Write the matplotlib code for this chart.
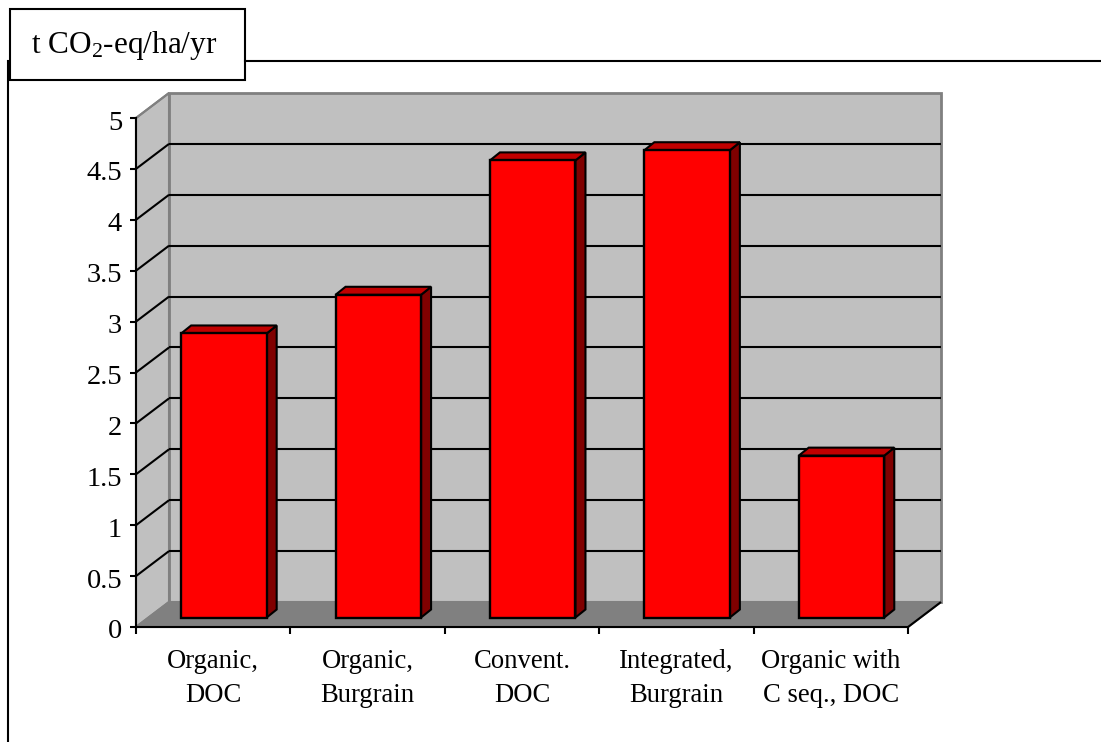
import matplotlib
matplotlib.use("Agg")
import matplotlib.pyplot as plt
from matplotlib.patches import Polygon, Rectangle
from matplotlib.lines import Line2D
from matplotlib.transforms import Affine2D

categories = ["Organic,\nDOC", "Organic,\nBurgrain", "Convent.\nDOC", "Integrated,\nBurgrain", "Organic with\nC seq., DOC"]
values = [2.79, 3.17, 4.49, 4.59, 1.59]
y_ticks = [0, 0.5, 1, 1.5, 2, 2.5, 3, 3.5, 4, 4.5, 5]
y_tick_labels = ["0", "0.5", "1", "1.5", "2", "2.5", "3", "3.5", "4", "4.5", "5"]
unit_label = "t CO$_2$-eq/ha/yr"

plt.rcParams["font.family"] = "Liberation Serif"
plt.rcParams["mathtext.default"] = "regular"
W, H = 1101, 742
fig = plt.figure(figsize=(W / 100, H / 100), dpi=100, facecolor="white")
ax = fig.add_axes([136 / W, (H - 627) / H, 772 / W, 509 / H])
ax.set_xlim(0, len(categories))
ax.set_ylim(0, 5)
ax.patch.set_visible(False)

def off(dx, dy):
    return ax.transData + Affine2D().translate(dx, dy)

DX, DY = 33, 25
n = len(categories)
GREY, WALL, FLOOR = "#808080", "#C0C0C0", "#808080"

# depth projection: pixel offset d*(DX, DY) from the front plane
p = lambda x, y, d: (ax.transData.transform((x, y)) + (d * DX, d * DY))
to_fig = fig.transFigure.inverted()

def fig_poly(pts, **kw):
    pg = Polygon(to_fig.transform(pts), closed=True, transform=fig.transFigure, clip_on=False, **kw)
    ax.add_artist(pg)
    return pg

def fig_line(a, b, color="black", lw=1.5, z=2):
    pts = to_fig.transform([a, b])
    ax.add_artist(Line2D(pts[:, 0], pts[:, 1], transform=fig.transFigure, color=color, lw=lw,
                         zorder=z, clip_on=False, solid_capstyle="butt"))

# walls and floor
ax.add_patch(Polygon([(0, 0), (n, 0), (n, 5), (0, 5)], closed=True, transform=off(DX, DY),
                     fc=WALL, ec=GREY, lw=2, clip_on=False, zorder=1))
fig_poly([p(0, 0, 0), p(0, 5, 0), p(0, 5, 1), p(0, 0, 1)], fc=WALL, ec=GREY, lw=1.5, zorder=1.1)
fig_poly([p(0, 0, 0), p(n, 0, 0), p(n, 0, 1), p(0, 0, 1)], fc=FLOOR, ec=GREY, lw=1.5, zorder=1.2)

# gridlines across left wall and back wall
for v in y_ticks[1:-1]:
    fig_line(p(0, v, 0), p(0, v, 1))
    fig_line(p(0, v, 1), p(n, v, 1))
fig_line(p(n, 0, 0), p(n, 0, 1))
fig_line(p(0, 5, 0), p(0, 5, 1), color=GREY)

# bars
BW = 0.277
FX, FY = 10.7, 9.5
BX, BY = 10, 8
for i, v in enumerate(values):
    c = i + 0.5
    l, r = c - BW, c + BW
    tr = off(FX, FY)
    q = lambda x, y, d: (ax.transData.transform((x, y)) + (FX + d * BX, FY + d * BY))
    fig_poly([q(r, 0, 0), q(r, v, 0), q(r, v, 1), q(r, 0, 1)], fc="#800000", ec="black", lw=1.5, zorder=3)
    fig_poly([q(l, v, 0), q(r, v, 0), q(r, v, 1), q(l, v, 1)], fc="#C00000", ec="black", lw=1.5, zorder=3)
    ax.add_patch(Rectangle((l, 0), 2 * BW, v, transform=tr, fc="#FF0000", ec="black", lw=1.7,
                           zorder=4, clip_on=False))

# axes
for s in ("top", "right"):
    ax.spines[s].set_visible(False)
for s in ("left", "bottom"):
    ax.spines[s].set_linewidth(1.5)
    ax.spines[s].set_zorder(5)
ax.set_yticks(y_ticks)
ax.set_yticklabels(y_tick_labels, fontsize=20.5, color="black")
ax.tick_params(axis="y", length=4.5, width=1.5, pad=5.5)
for lab in ax.get_yticklabels():
    lab.set_transform(lab.get_transform() + Affine2D().translate(0, -2))
ax.set_xticks(range(n + 1))
ax.set_xticklabels([""] * (n + 1))
ax.tick_params(axis="x", which="major", length=5, width=1.5)
ax.set_xticks([i + 0.5 for i in range(n)], minor=True)
ax.set_xticklabels(categories, minor=True, fontsize=19.2, linespacing=1.45)
ax.tick_params(axis="x", which="minor", length=0, pad=16)

# frame lines and unit box
def px(x, y):
    return x / W, (H - y) / H
x0, y0 = px(245, 61); x1, y1 = px(1101, 61)
fig.add_artist(Line2D([x0, x1], [y0, y1], color="black", lw=1.5))
x0, y0 = px(8, 61); x1, y1 = px(8, 742)
fig.add_artist(Line2D([x0, x1], [y0, y1], color="black", lw=1.5))
bx, by = px(9.5, 80)
fig.add_artist(Rectangle((bx, by), 235.5 / W, 71 / H, transform=fig.transFigure, fc="white", ec="black", lw=1.5))
tx, ty = px(31, 45)
fig.text(tx, ty, unit_label, fontsize=22.5, ha="left", va="center", color="black")

fig.savefig("out.png", dpi=100)
